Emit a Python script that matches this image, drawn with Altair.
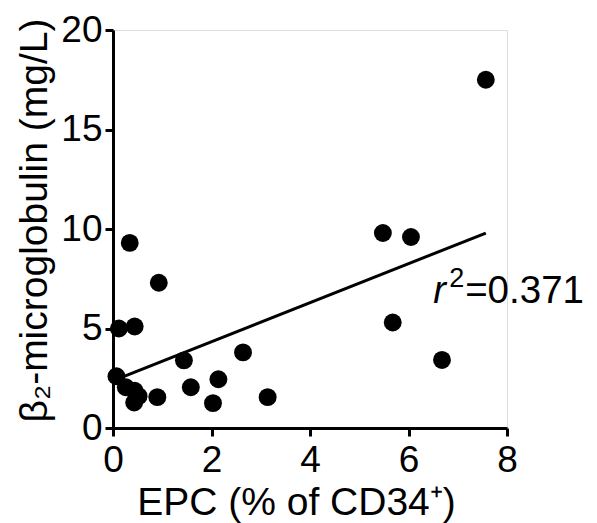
import altair as alt
import pandas as pd

# EPC (% of CD34+) values
epc = [0.34, 0.93, 0.12, 0.44, 0.07, 0.26, 0.44, 0.52, 0.43, 0.90,
       1.44, 1.58, 2.14, 2.03, 2.64, 3.14, 5.48, 6.05, 5.68, 6.68, 7.57]
# beta2-microglobulin (mg/L)
b2m = [9.3, 7.3, 5.0, 5.1, 2.6, 2.05, 1.87, 1.6, 1.28, 1.55,
       3.4, 2.05, 2.45, 1.25, 3.8, 1.55, 9.8, 9.6, 5.3, 3.42, 17.5]

x_ticks = [0, 2, 4, 6, 8]
y_ticks = [0, 5, 10, 15, 20]
r2_text = "=0.371"
r2_pos = {"x": 6.50, "y": 6.28}

df = pd.DataFrame({"epc": epc, "b2m": b2m})
lab = pd.DataFrame([r2_pos])

FONT = "Liberation Sans"

xscale = alt.Scale(domain=[0, 8], nice=False, zero=False)
yscale = alt.Scale(domain=[0, 20], nice=False, zero=False)

xaxis = alt.Axis(values=x_ticks, title="EPC (% of CD34⁺)", grid=False,
                 labelFont=FONT, labelFontSize=37, labelColor="black",
                 labelPadding=6, labelFlush=False,
                 titleFont=FONT, titleFontSize=39, titleFontWeight="normal",
                 titleColor="black", titleX=183, titleY=86,
                 titleBaseline="alphabetic",
                 domainColor="black", domainWidth=3, tickColor="black",
                 tickWidth=3, tickSize=8)
yaxis = alt.Axis(values=y_ticks, title="β₂-microglobulin (mg/L)", grid=False,
                 labelFont=FONT, labelFontSize=37, labelColor="black",
                 labelPadding=3, labelFlush=False,
                 titleFont=FONT, titleFontSize=39, titleFontWeight="normal",
                 titleColor="black", titleX=-67, titleY=190,
                 titleBaseline="alphabetic",
                 domainColor="black", domainWidth=3, tickColor="black",
                 tickWidth=3, tickSize=8)

base = alt.Chart(df)

points = base.mark_circle(size=320, color="black", opacity=1).encode(
    x=alt.X("epc:Q", scale=xscale, axis=xaxis),
    y=alt.Y("b2m:Q", scale=yscale, axis=yaxis),
)

fit = base.transform_regression("epc", "b2m").mark_line(
    color="black", strokeWidth=3
).encode(
    x=alt.X("epc:Q", scale=xscale),
    y=alt.Y("b2m:Q", scale=yscale),
)

enc = dict(x=alt.X("x:Q", scale=xscale), y=alt.Y("y:Q", scale=yscale))

r_lab = alt.Chart(lab).mark_text(
    text="r", font=FONT, fontSize=38, fontStyle="italic", align="left",
    baseline="alphabetic", color="black"
).encode(**enc)

sup_lab = alt.Chart(lab).mark_text(
    text="2", font=FONT, fontSize=27, align="left",
    baseline="alphabetic", color="black", dx=16, dy=-16
).encode(**enc)

val_lab = alt.Chart(lab).mark_text(
    text=r2_text, font=FONT, fontSize=38.5, align="left",
    baseline="alphabetic", color="black", dx=32
).encode(**enc)

chart = alt.layer(points, fit, r_lab, sup_lab, val_lab).properties(
    width=394, height=398,
    autosize=alt.AutoSizeParams(type="none"),
    padding={"left": 105, "top": 22, "right": 82, "bottom": 95},
).configure_view(stroke=None).configure(background="white")

chart.save("out.html", embed_options={"renderer": "svg", "actions": False})
